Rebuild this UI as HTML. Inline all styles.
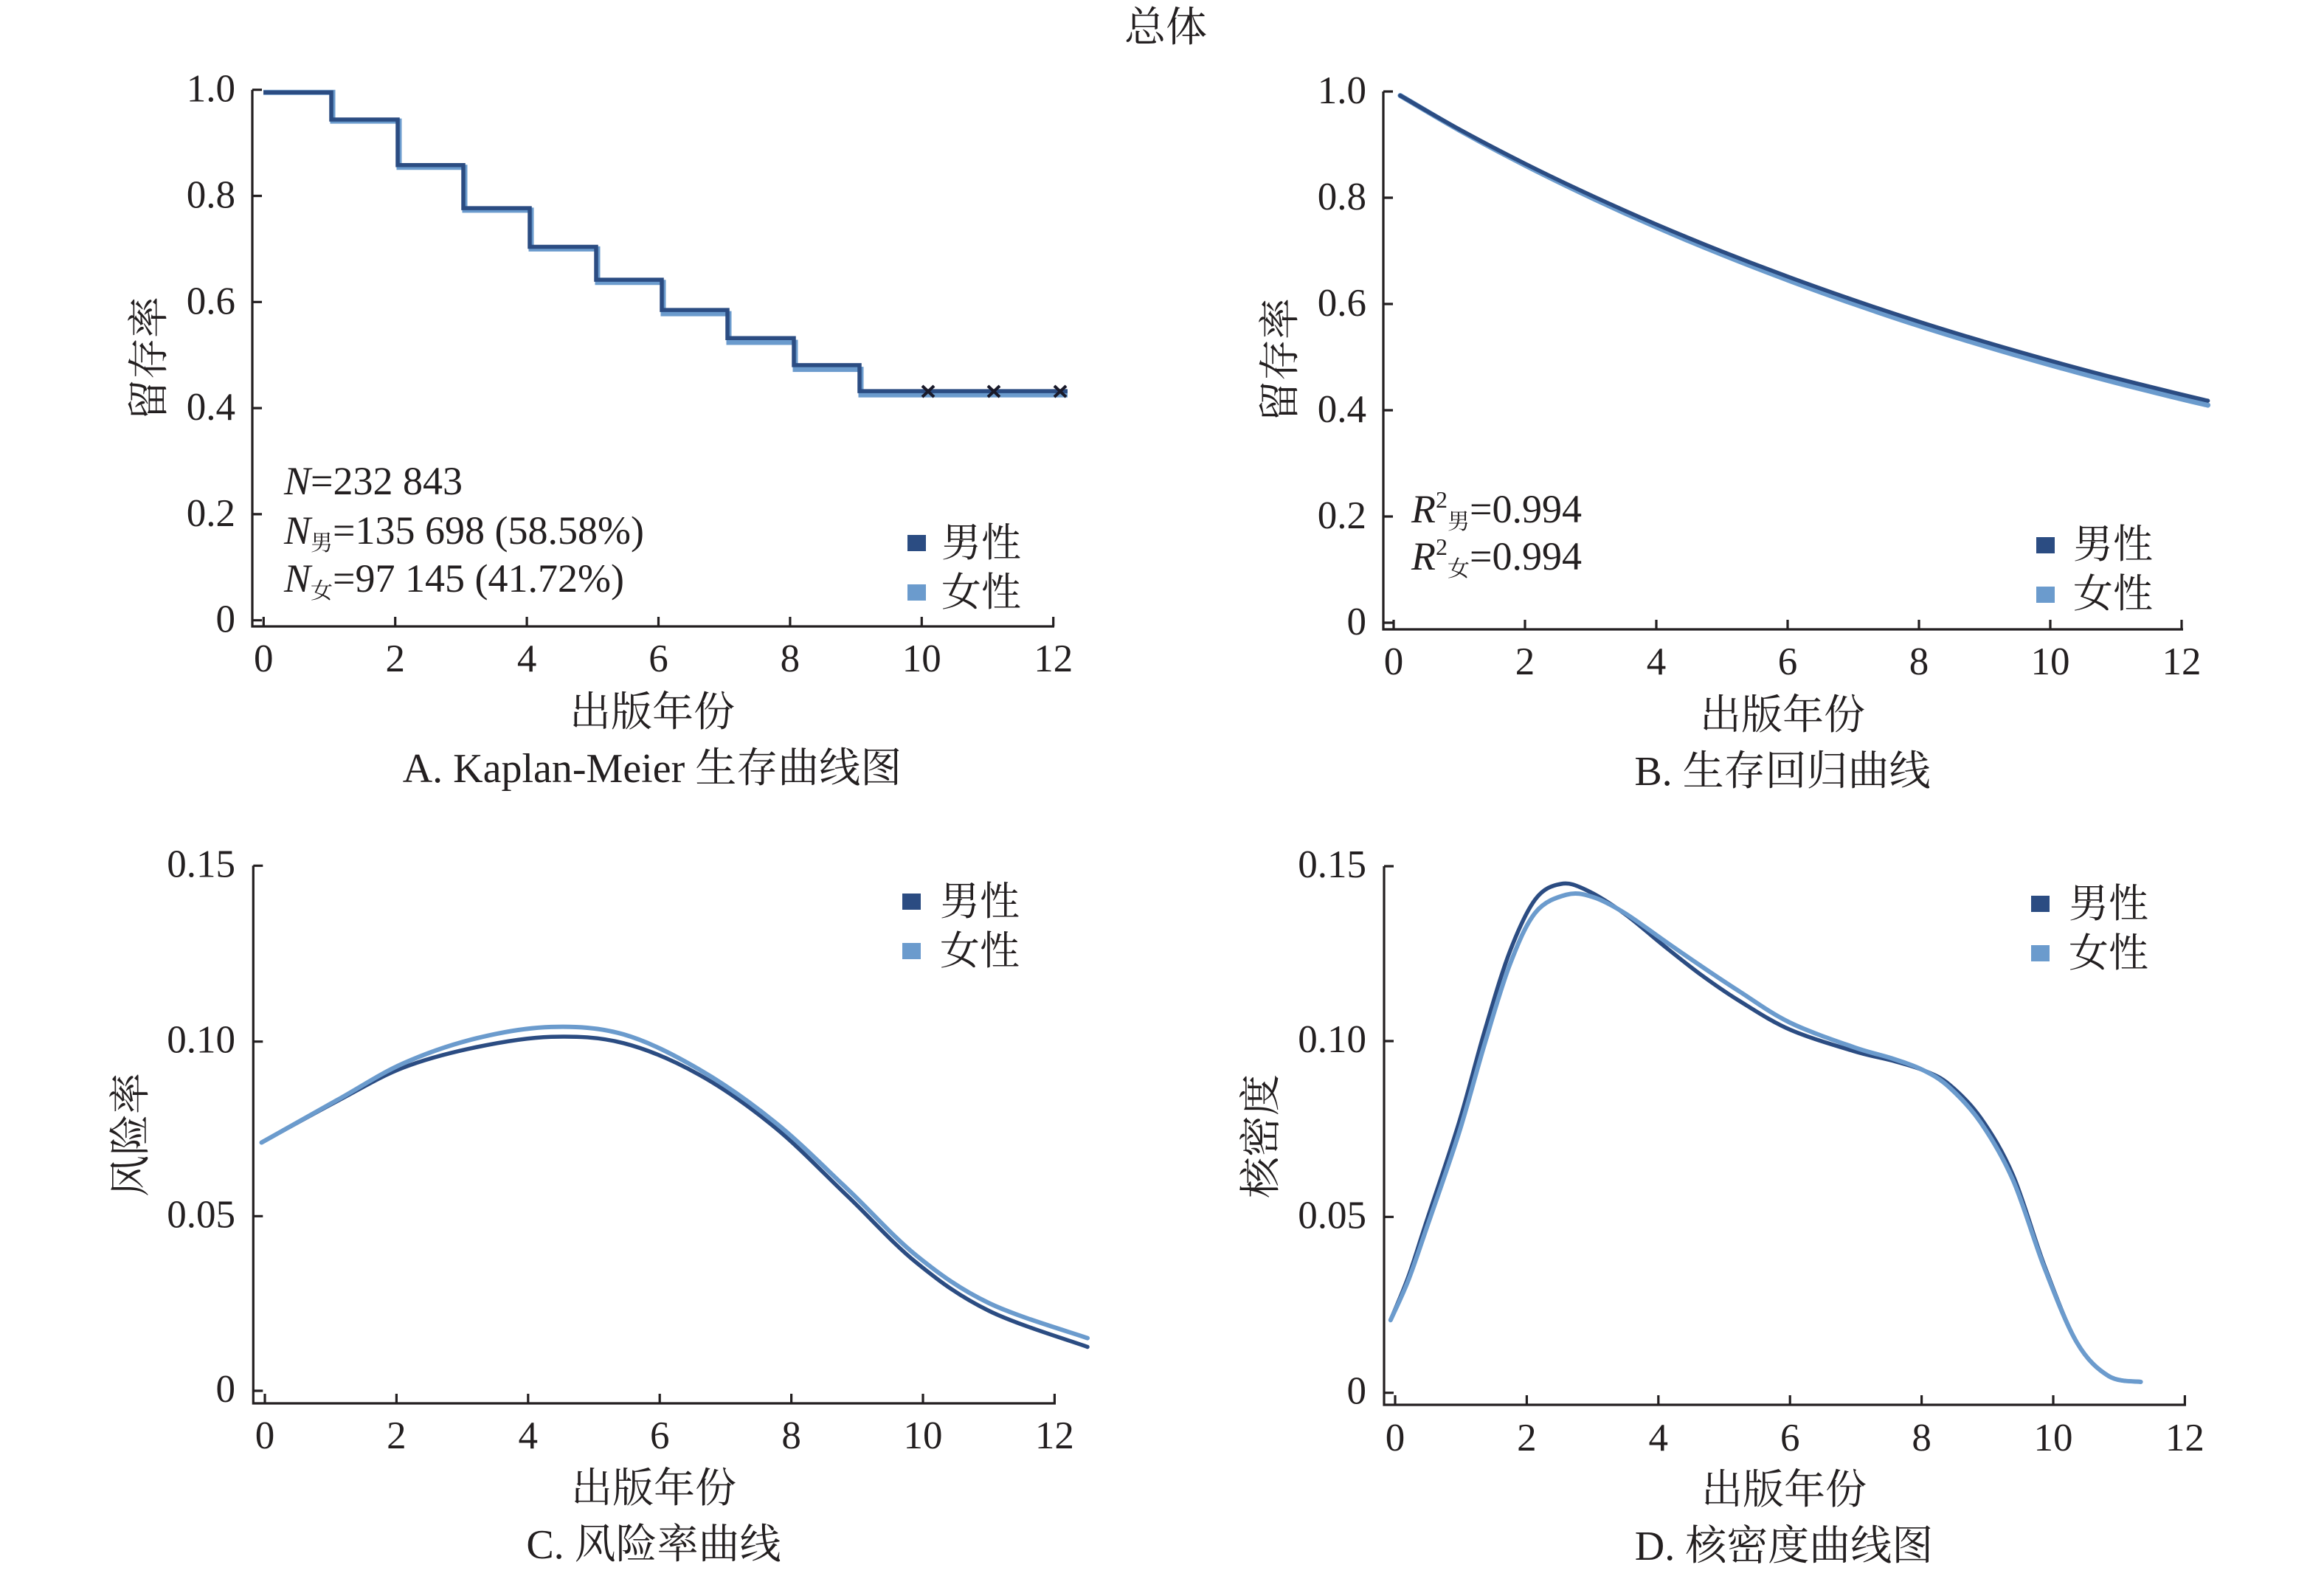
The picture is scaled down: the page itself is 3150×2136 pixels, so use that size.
<!DOCTYPE html>
<html>
<head>
<meta charset="utf-8">
<style>
html,body{margin:0;padding:0;background:#fff;}
svg{display:block;}
text{font-family:"Liberation Serif","Noto Serif CJK SC",serif;fill:#231f20;}
.t{font-size:53px;}
.l{font-size:56px;}
</style>
</head>
<body>
<svg id="chart" width="3150" height="2136" viewBox="0 0 3150 2136" xmlns="http://www.w3.org/2000/svg">
<rect width="3150" height="2136" fill="#fff"/>

<!-- Title -->
<text class="l" x="1580" y="56" text-anchor="middle">总体</text>

<g stroke="#231f20" stroke-width="3.2" fill="none">
<!-- Panel A axes -->
<path d="M342,121.7 V849 H1429"/>
<path d="M342,121.7 h13 M342,265.5 h13 M342,409.3 h13 M342,553.1 h13 M342,696.9 h13 M342,840.7 h13"/>
<path d="M357.3,849 v-13 M535.7,849 v-13 M714.1,849 v-13 M892.5,849 v-13 M1070.9,849 v-13 M1249.3,849 v-13 M1427.7,849 v-13"/>
<!-- Panel B axes -->
<path d="M1875,124 V853 H2959"/>
<path d="M1875,124 h13 M1875,268 h13 M1875,412 h13 M1875,556 h13 M1875,700 h13 M1875,844 h13"/>
<path d="M1889,853 v-13 M2067,853 v-13 M2245,853 v-13 M2423,853 v-13 M2601,853 v-13 M2779,853 v-13 M2957,853 v-13"/>
<!-- Panel C axes -->
<path d="M343.3,1173.3 V1902 H1431"/>
<path d="M343.3,1173.3 h13 M343.3,1411.7 h13 M343.3,1648.3 h13 M343.3,1885 h13"/>
<path d="M359,1902 v-13 M537.4,1902 v-13 M715.8,1902 v-13 M894.2,1902 v-13 M1072.6,1902 v-13 M1251,1902 v-13 M1429.4,1902 v-13"/>
<!-- Panel D axes -->
<path d="M1876,1174 V1904 H2963"/>
<path d="M1876,1174 h13 M1876,1411 h13 M1876,1649.3 h13 M1876,1887.7 h13"/>
<path d="M1891,1904 v-13 M2069.4,1904 v-13 M2247.8,1904 v-13 M2426.2,1904 v-13 M2604.6,1904 v-13 M2783,1904 v-13 M2961.4,1904 v-13"/>
</g>

<!-- Y tick labels -->
<g class="t" text-anchor="end">
<text x="319" y="137.7">1.0</text>
<text x="319" y="281.5">0.8</text>
<text x="319" y="425.3">0.6</text>
<text x="319" y="569.1">0.4</text>
<text x="319" y="712.9">0.2</text>
<text x="319" y="856.7">0</text>

<text x="1852" y="140">1.0</text>
<text x="1852" y="284">0.8</text>
<text x="1852" y="428">0.6</text>
<text x="1852" y="572">0.4</text>
<text x="1852" y="716">0.2</text>
<text x="1852" y="860">0</text>

<text x="319" y="1188.3">0.15</text>
<text x="319" y="1426.7">0.10</text>
<text x="319" y="1663.3">0.05</text>
<text x="319" y="1900">0</text>

<text x="1852" y="1189">0.15</text>
<text x="1852" y="1426">0.10</text>
<text x="1852" y="1664.3">0.05</text>
<text x="1852" y="1902.7">0</text>
</g>

<!-- X tick labels -->
<g class="t" text-anchor="middle">
<text x="357.3" y="910">0</text><text x="535.7" y="910">2</text><text x="714.1" y="910">4</text><text x="892.5" y="910">6</text><text x="1070.9" y="910">8</text><text x="1249.3" y="910">10</text><text x="1427.7" y="910">12</text>
<text x="1889" y="914">0</text><text x="2067" y="914">2</text><text x="2245" y="914">4</text><text x="2423" y="914">6</text><text x="2601" y="914">8</text><text x="2779" y="914">10</text><text x="2957" y="914">12</text>
<text x="359" y="1963">0</text><text x="537.4" y="1963">2</text><text x="715.8" y="1963">4</text><text x="894.2" y="1963">6</text><text x="1072.6" y="1963">8</text><text x="1251" y="1963">10</text><text x="1429.4" y="1963">12</text>
<text x="1891" y="1966">0</text><text x="2069.4" y="1966">2</text><text x="2247.8" y="1966">4</text><text x="2426.2" y="1966">6</text><text x="2604.6" y="1966">8</text><text x="2783" y="1966">10</text><text x="2961.4" y="1966">12</text>
</g>

<!-- Axis titles -->
<g class="l" text-anchor="middle">
<text transform="translate(203,486) rotate(-90)" dominant-baseline="central">留存率</text>
<text transform="translate(1736,488) rotate(-90)" dominant-baseline="central">留存率</text>
<text transform="translate(178,1538) rotate(-90)" dominant-baseline="central">风险率</text>
<text transform="translate(1710,1540) rotate(-90)" dominant-baseline="central">核密度</text>

<text x="884" y="984">出版年份</text>
<text x="2416" y="988">出版年份</text>
<text x="886" y="2036">出版年份</text>
<text x="2418" y="2038">出版年份</text>

<text x="884" y="1060">A. Kaplan-Meier 生存曲线图</text>
<text x="2416" y="1064">B. 生存回归曲线</text>
<text x="886" y="2112">C. 风险率曲线</text>
<text x="2418" y="2114">D. 核密度曲线图</text>
</g>

<!-- Panel A annotations -->
<g style="font-size:54px">
<text x="385" y="670"><tspan font-style="italic">N</tspan>=232 843</text>
<text x="385" y="737"><tspan font-style="italic">N</tspan><tspan font-size="30" dy="9">男</tspan><tspan dy="-9">=135 698 (58.58%)</tspan></text>
<text x="385" y="802"><tspan font-style="italic">N</tspan><tspan font-size="30" dy="9">女</tspan><tspan dy="-9">=97 145 (41.72%)</tspan></text>
</g>
<!-- Panel B annotations -->
<g style="font-size:54px">
<text x="1913" y="708"><tspan font-style="italic">R</tspan><tspan font-size="32" dy="-20">2</tspan><tspan font-size="30" dy="29">男</tspan><tspan dy="-9">=0.994</tspan></text>
<text x="1913" y="772"><tspan font-style="italic">R</tspan><tspan font-size="32" dy="-20">2</tspan><tspan font-size="30" dy="29">女</tspan><tspan dy="-9">=0.994</tspan></text>
</g>

<!-- Legends -->
<g>
<rect x="1230" y="725" width="25" height="22" fill="#2b4c82"/>
<rect x="1230" y="792" width="25" height="22" fill="#6b9bcd"/>
<rect x="2760" y="728" width="25" height="22" fill="#2b4c82"/>
<rect x="2760" y="795" width="25" height="22" fill="#6b9bcd"/>
<rect x="1223" y="1211" width="25" height="22" fill="#2b4c82"/>
<rect x="1223" y="1278" width="25" height="22" fill="#6b9bcd"/>
<rect x="2753" y="1214" width="25" height="22" fill="#2b4c82"/>
<rect x="2753" y="1281" width="25" height="22" fill="#6b9bcd"/>
</g>
<g style="font-size:54px">
<text x="1276" y="754">男性</text>
<text x="1276" y="821">女性</text>
<text x="2810" y="756">男性</text>
<text x="2810" y="823">女性</text>
<text x="1274" y="1240">男性</text>
<text x="1274" y="1307">女性</text>
<text x="2804" y="1243">男性</text>
<text x="2804" y="1310">女性</text>
</g>

<!-- Panel A: KM curves -->
<g fill="none" stroke-linejoin="miter">
<path stroke="#6b9bcd" stroke-width="7" d="M357,125.3 H451 V164.1 H541 V226.7 H630 V284.9 H720 V337.4 H810 V382.7 H899 V425.1 H988 V464 H1078 V500.6 H1167 V535.1 H1447"/>
<path stroke="#2b4c82" stroke-width="5.5" d="M357,125.3 H449 V162 H539 V223.8 H628 V282.1 H718 V334.5 H808 V379.1 H897 V420.1 H986 V458.2 H1076 V494.9 H1165 V530.1 H1447"/>
</g>
<g stroke="#1a1a2a" stroke-width="4">
<path d="M1250,523 l16,15 M1266,523 l-16,15"/>
<path d="M1339,523 l16,15 M1355,523 l-16,15"/>
<path d="M1429,523 l16,15 M1445,523 l-16,15"/>
</g>

<!-- Panel B: regression curves -->
<g fill="none" stroke-linejoin="round" stroke-linecap="round">
<polyline class="sm" stroke="#6b9bcd" stroke-width="7" points="1897.9,129.5 1978,176.3 2067,223.8 2156,267.3 2245,307.6 2334,344.8 2423,379.3 2512,411.5 2601,441.3 2690,468.8 2779,494.5 2868,518.5 2957,540.7 2992.6,549.1"/>
<polyline class="sm" stroke="#2b4c82" stroke-width="5.5" points="1897.9,129.5 1978,175.3 2067,221.8 2156,264.5 2245,304.1 2334,340.8 2423,374.8 2512,406.5 2601,436 2690,463.3 2779,488.8 2868,512.6 2957,534.7 2992.6,543.1"/>
</g>

<!-- Panel C: hazard curves -->
<g fill="none" stroke-linejoin="round" stroke-linecap="round">
<polyline class="sm" stroke="#2b4c82" stroke-width="5.5" points="354.5,1548.5 457.1,1492.3 546.3,1447.1 644.4,1419.5 747,1405.2 845.1,1413.8 947.7,1456.6 1050.3,1528 1148.4,1620.8 1242.1,1711.3 1340.2,1776.5 1474,1825.5"/>
<polyline class="sm" stroke="#6b9bcd" stroke-width="6" points="354.5,1548.5 457.1,1490.9 546.3,1441.4 644.4,1407.6 747,1391.9 845.1,1401.9 947.7,1449.5 1050.3,1520.9 1148.4,1611.3 1242.1,1701.7 1340.2,1766 1474,1813.6"/>
</g>

<!-- Panel D: kernel density curves -->
<g fill="none" stroke-linejoin="round" stroke-linecap="round">
<polyline class="sm" stroke="#2b4c82" stroke-width="5.5" points="1884.8,1789.2 1908.8,1730.6 1933.8,1654.5 1977.5,1521.7 2012.3,1397.4 2046.2,1290.3 2081,1218.9 2115.8,1198 2149.7,1206.1 2201.4,1238 2254,1280.8 2305.8,1321.3 2357.5,1356.5 2426.2,1395.5 2512.7,1424.6 2564.5,1437.4 2607.3,1450.7 2642.1,1469.8 2684.9,1515.5 2728.6,1593.1 2771.4,1716.3 2815.1,1819.6 2857.9,1864.9 2901.6,1872.9"/>
<polyline class="sm" stroke="#6b9bcd" stroke-width="6" points="1884.8,1789.2 1908.8,1735.4 1933.8,1664 1977.5,1535.5 2012.3,1415 2046.2,1307.9 2081,1237 2122.9,1212.7 2158.6,1215.6 2201.4,1237 2254,1273.7 2305.8,1309.4 2357.5,1343.6 2426.2,1386 2512.7,1419.3 2564.5,1434.5 2607.3,1450.7 2642.1,1473.6 2684.9,1521.7 2728.6,1599.7 2771.4,1719.2 2815.1,1819.6 2857.9,1864.9 2901.6,1872.9"/>
</g>
</svg>
<script>
(function(){
  var ns="http://www.w3.org/2000/svg";
  var lines=document.querySelectorAll("polyline.sm");
  for(var i=0;i<lines.length;i++){
    var pl=lines[i];
    var raw=pl.getAttribute("points").trim().split(/\s+/);
    var P=raw.map(function(s){var a=s.split(",");return [parseFloat(a[0]),parseFloat(a[1])];});
    if(P.length<3) continue;
    var d="M"+P[0][0]+","+P[0][1];
    for(var k=0;k<P.length-1;k++){
      var p0=P[k>0?k-1:k],p1=P[k],p2=P[k+1],p3=P[k+2<P.length?k+2:k+1];
      var c1x=p1[0]+(p2[0]-p0[0])/6,c1y=p1[1]+(p2[1]-p0[1])/6;
      var c2x=p2[0]-(p3[0]-p1[0])/6,c2y=p2[1]-(p3[1]-p1[1])/6;
      d+=" C"+c1x.toFixed(1)+","+c1y.toFixed(1)+" "+c2x.toFixed(1)+","+c2y.toFixed(1)+" "+p2[0]+","+p2[1];
    }
    var path=document.createElementNS(ns,"path");
    path.setAttribute("d",d);
    path.setAttribute("stroke",pl.getAttribute("stroke"));
    path.setAttribute("stroke-width",pl.getAttribute("stroke-width"));
    path.setAttribute("fill","none");
    pl.parentNode.replaceChild(path,pl);
  }
})();
</script>
</body>
</html>
